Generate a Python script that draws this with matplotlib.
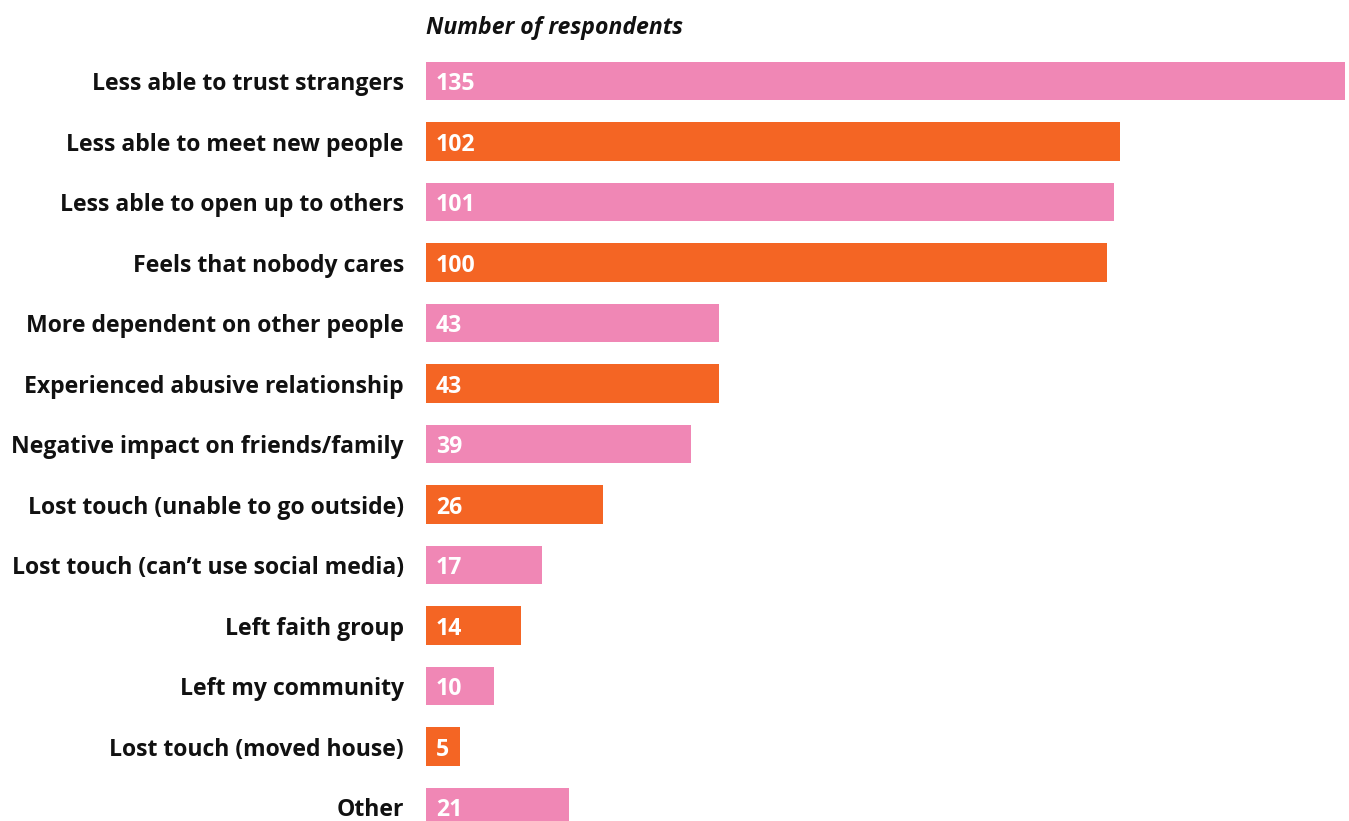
import matplotlib
matplotlib.use('Agg')
import matplotlib.pyplot as plt

plt.rcParams['font.family'] = ['Open Sans', 'DejaVu Sans']

labels = [
    'Less able to trust strangers',
    'Less able to meet new people',
    'Less able to open up to others',
    'Feels that nobody cares',
    'More dependent on other people',
    'Experienced abusive relationship',
    'Negative impact on friends/family',
    'Lost touch (unable to go outside)',
    'Lost touch (can\u2019t use social media)',
    'Left faith group',
    'Left my community',
    'Lost touch (moved house)',
    'Other',
]
counts = [135, 102, 101, 100, 43, 43, 39, 26, 17, 14, 10, 5, 21]

pink = '#F087B5'
orange = '#F46524'
colors = [pink if i % 2 == 0 else orange for i in range(len(counts))]

W, H = 1349, 821
FS = 16.6
fig = plt.figure(figsize=(W / 100, H / 100), dpi=100)
# bars start at x=426px, pitch ~60.5px, first bar centred at 81px
left = 426 / W
right = 1345 / W
top_px = 81 - 60.5 / 2
bot_px = 81 + 12.5 * 60.5
ax = fig.add_axes([left, (H - bot_px) / H, right - left, (bot_px - top_px) / H])

pos = list(range(len(counts)))
ax.barh(pos, counts, height=0.63, color=colors)
ax.set_xlim(0, 135)
ax.set_ylim(len(counts) - 0.5, -0.5)

for p, v in zip(pos, counts):
    ax.annotate(str(v), (0, p), xytext=(10, 0), textcoords='offset pixels',
                ha='left', va='center_baseline', color='white', fontsize=FS,
                fontweight='bold')

ax.set_yticks(pos)
ax.set_yticklabels(labels, fontsize=FS, fontweight='bold', color='#111111',
                   va='center_baseline')
ax.tick_params(axis='y', length=0, pad=16)
ax.set_xticks([])
for s in ax.spines.values():
    s.set_visible(False)

fig.text(left, 1 - 25 / H, 'Number of respondents', ha='left', va='center_baseline',
         fontsize=FS, fontstyle='italic', fontweight='bold', color='#111111')

fig.savefig('out.png', dpi=100)
